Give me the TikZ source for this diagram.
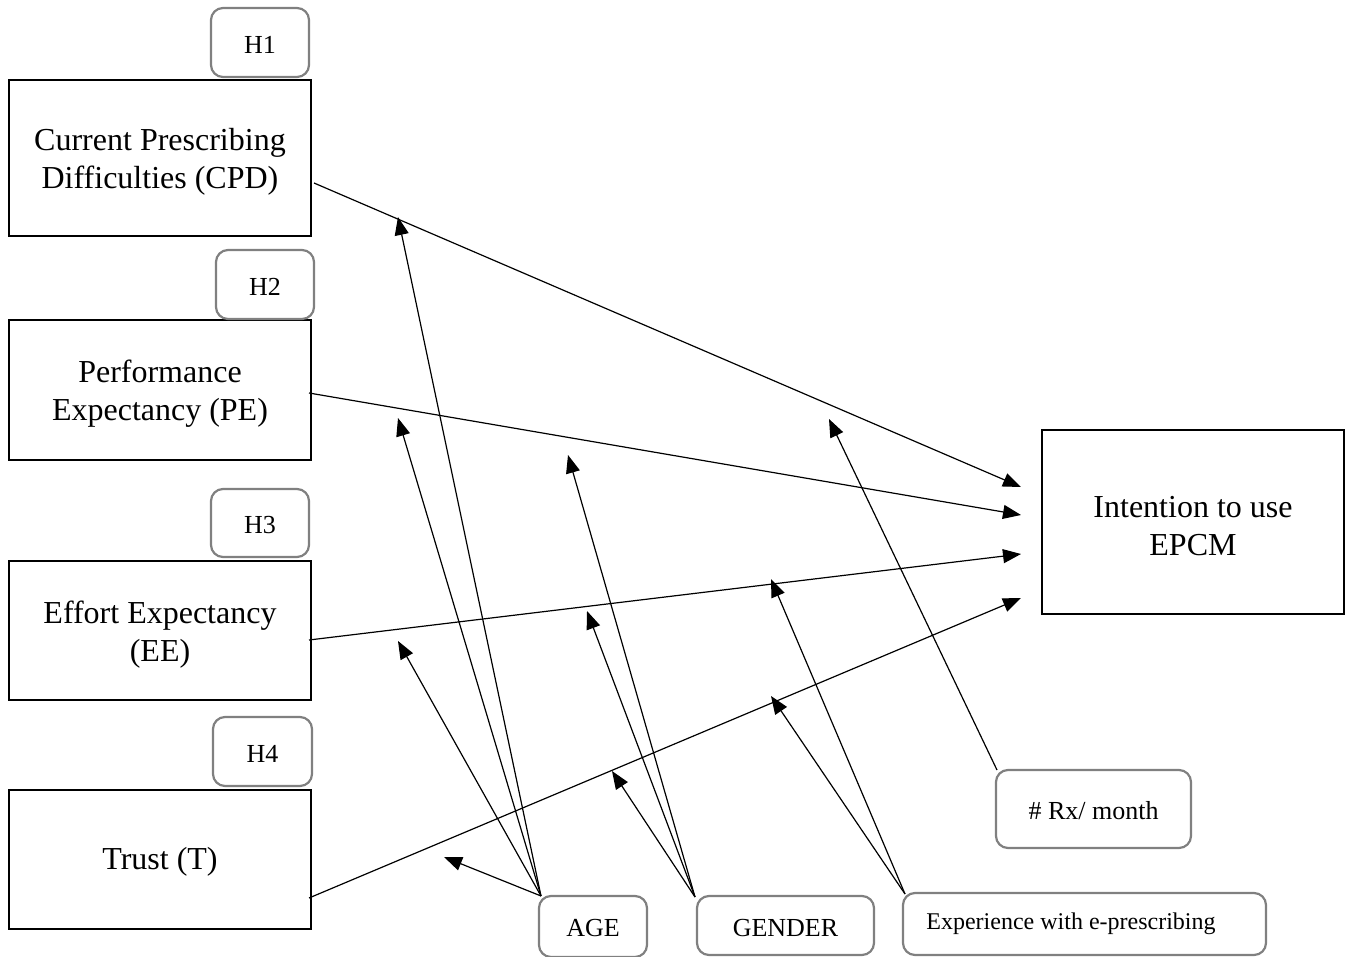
\documentclass[tikz,border=0pt]{standalone}
\usepackage{fontspec}
\setmainfont{Liberation Serif}
\usetikzlibrary{arrows.meta}
\begin{document}
\begin{tikzpicture}[x=1pt,y=-1pt,
  mainbox/.style={draw=black,line width=1.5pt,align=center,inner sep=0pt,
    font=\fontsize{32}{38}\selectfont},
  hbox/.style={draw=black!50,line width=2.2pt,rounded corners=12pt,align=center,inner sep=0pt,
    font=\fontsize{26}{30}\selectfont},
  link/.style={line width=1.2pt,-{Triangle[length=18pt,width=14pt]}},
  modl/.style={line width=1.2pt,-{Triangle[length=18pt,width=14pt]}}]
\useasboundingbox (0,0) rectangle (1350,957);
% main boxes
\node[mainbox,minimum width=302pt,minimum height=156pt] (cpd) at (160,158) {};
\node[mainbox,minimum width=302pt,minimum height=140pt] (pe) at (160,390) {};
\node[mainbox,minimum width=302pt,minimum height=139pt] (ee) at (160,630.5) {};
\node[mainbox,minimum width=302pt,minimum height=139pt] (t) at (160,859.5) {};
\node[mainbox,minimum width=302pt,minimum height=184pt] (int) at (1193,522) {};
\node[mainbox,draw=none] (cpdt) at (160,162) {Current Prescribing\\Difficulties (CPD)};
\node[mainbox,draw=none] (pet) at (160,394) {Performance\\Expectancy (PE)};
\node[mainbox,draw=none] (eet) at (160,635) {Effort Expectancy\\(EE)};
\node[mainbox,draw=none] (tt) at (160,862) {Trust (T)};
\node[mainbox,draw=none] (intt) at (1193,526) {Intention to use\\EPCM};
% hypothesis labels
\node[hbox,minimum width=98pt,minimum height=69pt] (h1) at (260,42.5) {};
\node[hbox,minimum width=98pt,minimum height=69pt] (h2) at (265,284.5) {};
\node[hbox,minimum width=98pt,minimum height=68pt] (h3) at (260,523) {};
\node[hbox,minimum width=99pt,minimum height=69pt] (h4) at (262.5,751.5) {};
\node[hbox,draw=none] (h1t) at (260,45) {H1};
\node[hbox,draw=none] (h2t) at (265,287) {H2};
\node[hbox,draw=none] (h3t) at (260,525.5) {H3};
\node[hbox,draw=none] (h4t) at (262.5,754) {H4};
% moderators
\node[hbox,minimum width=195pt,minimum height=78pt] (rx) at (1093.5,809) {};
\node[hbox,minimum width=108pt,minimum height=61pt] (age) at (593,926.5) {};
\node[hbox,minimum width=177pt,minimum height=59pt] (gen) at (785.5,925.5) {};
\node[hbox,minimum width=363pt,minimum height=62pt] (exp) at (1084.5,924) {};
\node[hbox,draw=none] (rxt) at (1093.5,811) {\# Rx/ month};
\node[hbox,draw=none] (aget) at (593,928.5) {AGE};
\node[hbox,draw=none] (gent) at (785.5,928) {GENDER};
\node[font=\fontsize{24}{28}\selectfont,anchor=center] (expt) at (1071,923.5) {Experience with e-prescribing};
% free-end coordinates of main paths
\coordinate (cpdS) at (314,183);
\coordinate (peS) at (309,393);
\coordinate (eeS) at (309,640);
\coordinate (tS) at (309,898);
\coordinate (i1) at (1021,487);
\coordinate (i2) at (1021,515);
\coordinate (i3) at (1021,554);
\coordinate (i4) at (1021,598);
\draw[link] (cpdS) -- (i1);
\draw[link] (peS) -- (i2);
\draw[link] (eeS) -- (i3);
\draw[link] (tS) -- (i4);
% moderator end points
\coordinate (a1) at (398,217);
\coordinate (a2) at (398,418);
\coordinate (a3) at (398,641);
\coordinate (a4) at (444,857);
\coordinate (g1) at (568,455);
\coordinate (g2) at (587,611);
\coordinate (g3) at (612,771);
\coordinate (e1) at (771,579);
\coordinate (e2) at (771,696);
\coordinate (r1) at (829,419);
\coordinate (ageC) at (541,896);
\coordinate (genC) at (695,897);
\coordinate (expC) at (905,894);
\coordinate (rxC) at (997,770);
\draw[modl] (ageC) -- (a1);
\draw[modl] (ageC) -- (a2);
\draw[modl] (ageC) -- (a3);
\draw[modl] (ageC) -- (a4);
\draw[modl] (genC) -- (g1);
\draw[modl] (genC) -- (g2);
\draw[modl] (genC) -- (g3);
\draw[modl] (expC) -- (e1);
\draw[modl] (expC) -- (e2);
\draw[modl] (rxC) -- (r1);
\end{tikzpicture}
\end{document}
